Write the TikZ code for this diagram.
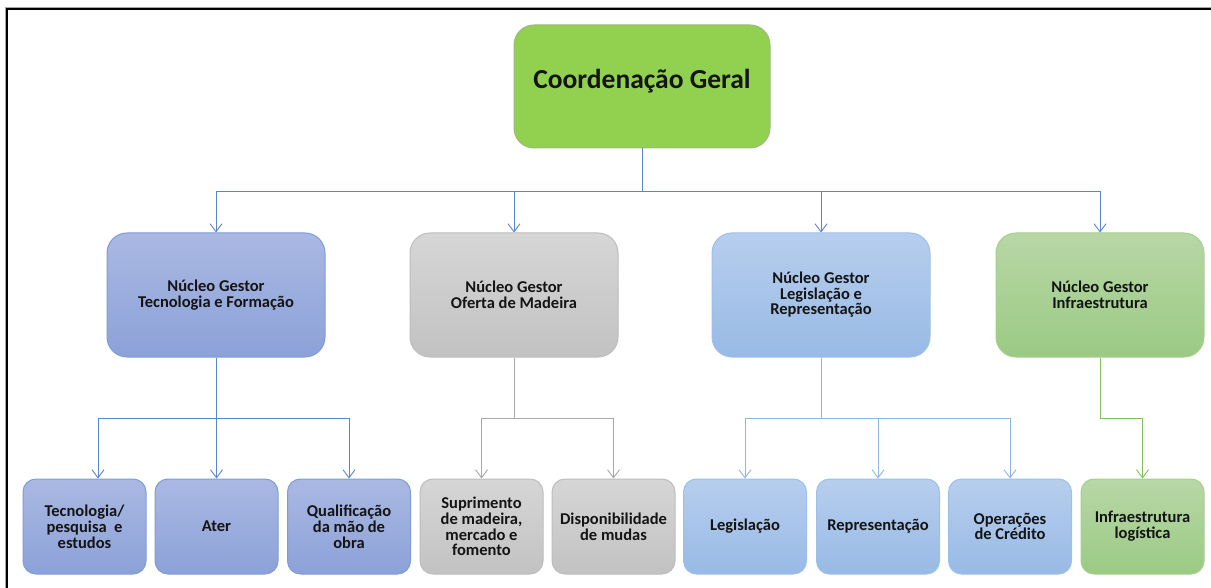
\documentclass[tikz,border=0pt]{standalone}
\usepackage{fontspec}
\setmainfont{Carlito}
\usetikzlibrary{arrows.meta}
\definecolor{cgreen}{HTML}{92D050}
\definecolor{cgreenbd}{HTML}{9DBA7E}
\definecolor{bluetop}{HTML}{AAB9E3}
\definecolor{bluebot}{HTML}{8CA1D8}
\definecolor{bluebd}{HTML}{7F9CD8}
\definecolor{graytop}{HTML}{D6D6D6}
\definecolor{graybot}{HTML}{C2C2C2}
\definecolor{graybd}{HTML}{BDBDBD}
\definecolor{lbtop}{HTML}{B7CEEE}
\definecolor{lbbot}{HTML}{98BAE5}
\definecolor{lbbd}{HTML}{9CC0E8}
\definecolor{gtop}{HTML}{B8D7A6}
\definecolor{gbot}{HTML}{9BCA84}
\definecolor{gbd}{HTML}{A6CF8C}
\definecolor{linblue}{HTML}{5A85D0}
\definecolor{lingray}{HTML}{A8A8A8}
\definecolor{linlb}{HTML}{8DB6E6}
\definecolor{lingreen}{HTML}{86BF5E}
\definecolor{txt}{HTML}{141414}
\tikzset{
  boxbase/.style={rounded corners=20pt, line width=1pt, align=center, text=txt, font=\bfseries\fontsize{16.5}{15.5}\selectfont, inner sep=0pt},
  lvltwo/.style={boxbase, minimum height=124pt},
  lvlthree/.style={boxbase, rounded corners=13pt, minimum width=123pt, minimum height=95pt, font=\bfseries\fontsize{16.5}{15.8}\selectfont},
  bluebox/.style={draw=bluebd, top color=bluetop, bottom color=bluebot},
  graybox/.style={draw=graybd, top color=graytop, bottom color=graybot},
  lbbox/.style={draw=lbbd, top color=lbtop, bottom color=lbbot},
  gbox/.style={draw=gbd, top color=gtop, bottom color=gbot},
  conn/.style={line width=0.9pt},
  arr/.style={conn, -{Straight Barb[length=8pt,width=12pt,line width=0.9pt]}}
}
\begin{document}
\begin{tikzpicture}[x=1pt,y=-1pt]
\useasboundingbox (0,0) rectangle (1211,588);
\clip (0,0) rectangle (1211,588);
\fill[white] (0,0) rectangle (1211,588);
% frame
\draw[black!35, line width=1pt] (5.5,600) -- (5.5,7.5) -- (1230,7.5);
\draw[black, line width=2pt] (7,600) -- (7,9) -- (1230,9);

% top
\node[boxbase, draw=cgreenbd, fill=cgreen, minimum width=256pt, minimum height=123pt, text height=18pt, text depth=13pt, font=\bfseries\fontsize{27.5}{30}\selectfont] (cg) at (642,86.5) {Coordenação Geral};

% level 2
\node[lvltwo, bluebox, minimum width=218pt] (n1) at (216,295) {Núcleo Gestor\\Tecnologia e Formação};
\node[lvltwo, graybox, minimum width=208pt] (n2) at (514,295) {Núcleo Gestor\\Oferta de Madeira};
\node[lvltwo, lbbox, minimum width=218pt] (n3) at (821,295) {Núcleo Gestor\\Legislação e\\Representação};
\node[lvltwo, gbox, minimum width=208pt] (n4) at (1100,295) {Núcleo Gestor\\Infraestrutura};

% level 3
\node[lvlthree, bluebox] (a) at (84.5,526.5) {Tecnologia/\\pesquisa\ \ e\\estudos};
\node[lvlthree, bluebox] (b) at (216.5,526.5) {Ater};
\node[lvlthree, bluebox] (c) at (349,526.5) {Qualificação\\da mão de\\obra};
\node[lvlthree, graybox] (d) at (481.5,526.5) {Suprimento\\de madeira,\\mercado e\\fomento};
\node[lvlthree, graybox] (e) at (613.5,526.5) {Disponibilidade\\de mudas};
\node[lvlthree, lbbox] (f) at (745,526.5) {Legislação};
\node[lvlthree, lbbox] (g) at (878,526.5) {Representação};
\node[lvlthree, lbbox] (h) at (1010,526.5) {Operações\\de Crédito};
\node[lvlthree, gbox] (i) at (1142.5,526.5) {Infraestrutura\\logística};

% connectors top
\coordinate (bus0) at (642,191);
\draw[conn, linblue] (cg.south) -- (bus0);
\draw[conn, linblue] (n1.north |- bus0) -- (n4.north |- bus0);
\foreach \t in {n1,n2,n3,n4} \draw[arr, linblue] (\t.north |- bus0) -- (\t.north);

% subtree 1
\coordinate (bus1) at (216,418);
\coordinate (aIn) at ([xshift=13.5pt]a.north);
\draw[conn, linblue] (n1.south) -- (bus1);
\draw[conn, linblue] (aIn |- bus1) -- (c.north |- bus1);
\draw[arr, linblue] (aIn |- bus1) -- (aIn);
\draw[arr, linblue] (b.north |- bus1) -- (b.north);
\draw[arr, linblue] (c.north |- bus1) -- (c.north);

% subtree 2
\coordinate (bus2) at (514,418);
\draw[conn, lingray] (n2.south) -- (bus2);
\draw[conn, lingray] (d.north |- bus2) -- (e.north |- bus2);
\draw[arr, lingray] (d.north |- bus2) -- (d.north);
\draw[arr, lingray] (e.north |- bus2) -- (e.north);

% subtree 3
\coordinate (bus3) at (821,418);
\draw[conn, linlb] (n3.south) -- (bus3);
\draw[conn, linlb] (f.north |- bus3) -- (h.north |- bus3);
\foreach \t in {f,g,h} \draw[arr, linlb] (\t.north |- bus3) -- (\t.north);

% subtree 4
\coordinate (bus4) at (1100,418);
\draw[arr, lingreen] (n4.south) -- (bus4) -| (i.north);
\end{tikzpicture}
\end{document}
